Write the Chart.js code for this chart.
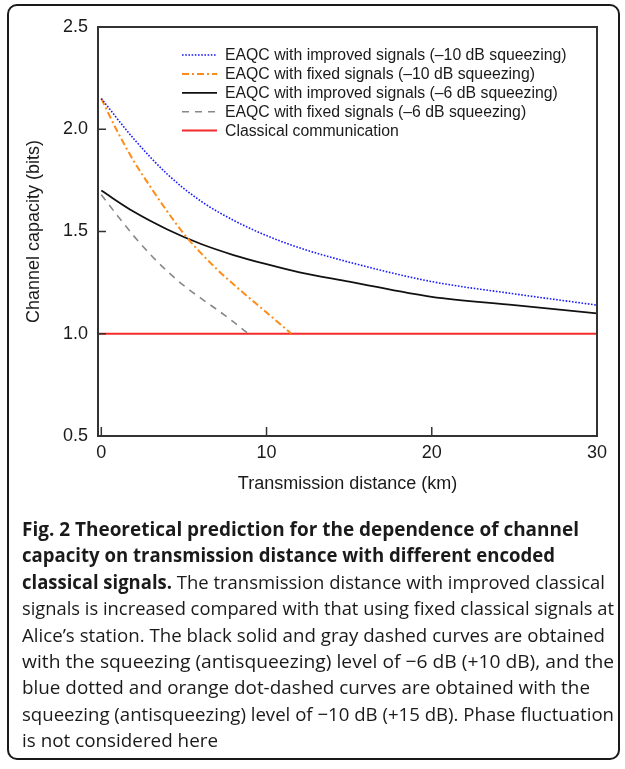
<!DOCTYPE html>
<html>
<head>
<meta charset="utf-8">
<script src="https://cdn.jsdelivr.net/npm/chart.js@4.4.1/dist/chart.umd.min.js"></script>
<style>
    html, body { margin: 0; padding: 0; background: #fff; }
    body { width: 625px; height: 769px; position: relative; overflow: hidden; }
    .card {
        position: absolute; left: 7px; top: 4px; width: 609px; height: 752px;
        border: 2px solid #1a1a1a; border-radius: 10px; pointer-events: none;
    }
    .chart-box { position: absolute; left: 0; top: 0; width: 625px; height: 500px; }
    .caption {
        position: absolute; left: 22px; top: 516px;
        font-family: "Open Sans", "Noto Sans", sans-serif; font-size: 19px;
        line-height: 26.4px; color: #1a1a1a;
    }
    .caption .line { display: block; white-space: nowrap; width: max-content; transform-origin: left center; }
    .caption b { font-weight: 700; }
</style>
</head>
<body>
<div class="chart-box"><canvas id="chart"></canvas></div>
<div class="card"></div>
<div class="caption">
    <span class="line" data-w="557"><b>Fig. 2 Theoretical prediction for the dependence of channel</b></span>
    <span class="line" data-w="533"><b>capacity on transmission distance with different encoded</b></span>
    <span class="line" data-w="583"><b>classical signals.</b> The transmission distance with improved classical</span>
    <span class="line" data-w="592">signals is increased compared with that using fixed classical signals at</span>
    <span class="line" data-w="583">Alice’s station. The black solid and gray dashed curves are obtained</span>
    <span class="line" data-w="592">with the squeezing (antisqueezing) level of −6 dB (+10 dB), and the</span>
    <span class="line" data-w="568">blue dotted and orange dot-dashed curves are obtained with the</span>
    <span class="line" data-w="592">squeezing (antisqueezing) level of −10 dB (+15 dB). Phase fluctuation</span>
    <span class="line" data-w="196">is not considered here</span>
</div>
<script>
// --- data ---
const improved10Km  = [0, 2, 4, 6, 8, 10, 12, 15, 20, 25, 30];
const improved10Cap = [2.15, 1.95, 1.78, 1.65, 1.555, 1.48, 1.42, 1.35, 1.255, 1.195, 1.14];

const fixed10Km  = [0, 1, 2, 3, 4, 5, 6, 7, 8, 9, 10, 11, 11.5];
const fixed10Cap = [2.15, 1.985, 1.84, 1.715, 1.597, 1.488, 1.397, 1.315, 1.242, 1.172, 1.104, 1.035, 1.0];

const improved6Km  = [0, 2, 4, 6, 8, 10, 12, 15, 20, 25, 30];
const improved6Cap = [1.70, 1.595, 1.51, 1.44, 1.385, 1.34, 1.30, 1.255, 1.18, 1.14, 1.10];

const fixed6Km  = [0, 1, 2, 3, 4, 5, 6, 7, 8, 8.9];
const fixed6Cap = [1.68, 1.575, 1.475, 1.385, 1.305, 1.235, 1.175, 1.118, 1.058, 1.0];

const classicalKm  = [-0.2, 30];
const classicalCap = [1.0, 1.0];

const xTicks = [0, 10, 20, 30];
const yTicks = [0.5, 1.0, 1.5, 2.0, 2.5];

const axisColor = '#333';
const textColor = '#1a1a1a';

function toPoints(xs, ys) {
    return xs.map((x, i) => ({ x: x, y: ys[i] }));
}

function lineSet(label, xs, ys, color, width, dash) {
    return {
        label: label,
        data: toPoints(xs, ys),
        borderColor: color,
        backgroundColor: color,
        borderWidth: width,
        borderDash: dash,
        pointRadius: 0,
        fill: false,
        cubicInterpolationMode: 'monotone'
    };
}

/** frame around the plot with inward tick marks */
const frameTicks = {
    id: 'frameTicks',
    afterDatasetsDraw(chart) {
        const { ctx, chartArea: a, scales: { x, y } } = chart;
        ctx.save();
        ctx.strokeStyle = axisColor;
        ctx.lineWidth = 2;
        ctx.strokeRect(a.left, a.top, a.right - a.left, a.bottom - a.top);
        ctx.lineWidth = 1.5;
        ctx.beginPath();
        x.ticks.forEach(t => {
            const px = x.getPixelForValue(t.value);
            ctx.moveTo(px, a.bottom);
            ctx.lineTo(px, a.bottom - 9);
        });
        y.ticks.forEach(t => {
            const py = y.getPixelForValue(t.value);
            ctx.moveTo(a.left, py);
            ctx.lineTo(a.left + 8, py);
        });
        ctx.stroke();
        ctx.restore();
    }
};

/** legend inside the plot, one row per series */
const insideLegend = {
    id: 'insideLegend',
    afterDraw(chart) {
        const ctx = chart.ctx;
        const x0 = 182, x1 = 217, tx = 225, y0 = 55, step = 18.9;
        ctx.save();
        ctx.font = '15.8px "Liberation Sans", Arial, sans-serif';
        ctx.textBaseline = 'middle';
        chart.data.datasets.forEach((ds, i) => {
            const y = y0 + i * step;
            ctx.strokeStyle = ds.borderColor;
            ctx.lineWidth = ds.borderWidth;
            ctx.setLineDash(ds.borderDash || []);
            ctx.beginPath();
            ctx.moveTo(x0, y);
            ctx.lineTo(x1, y);
            ctx.stroke();
            ctx.setLineDash([]);
            ctx.fillStyle = textColor;
            ctx.fillText(ds.label, tx, y + 1);
        });
        ctx.restore();
    }
};

const tickFont = { family: '"Liberation Sans", Arial, sans-serif', size: 18 };

new Chart(document.getElementById('chart'), {
    type: 'line',
    data: {
        datasets: [
            lineSet('EAQC with improved signals (\u201310 dB squeezing)', improved10Km, improved10Cap, '#1a1aff', 1.6, [1.6, 1.6]),
            lineSet('EAQC with fixed signals (\u201310 dB squeezing)', fixed10Km, fixed10Cap, '#ff8c1a', 2, [7, 3, 2, 3]),
            lineSet('EAQC with improved signals (\u20136 dB squeezing)', improved6Km, improved6Cap, '#111', 1.8, []),
            lineSet('EAQC with fixed signals (\u20136 dB squeezing)', fixed6Km, fixed6Cap, '#888', 1.6, [7, 6]),
            lineSet('Classical communication', classicalKm, classicalCap, '#f52a2a', 2, [])
        ]
    },
    options: {
        responsive: true,
        maintainAspectRatio: false,
        animation: false,
        layout: { padding: { left: 0, top: 27, right: 28, bottom: 0 } },
        plugins: {
            legend: { display: false },
            tooltip: { enabled: false }
        },
        scales: {
            x: {
                type: 'linear',
                min: -0.2,
                max: 30,
                afterBuildTicks: s => { s.ticks = xTicks.map(v => ({ value: v })); },
                afterFit: s => { s.height = 64; },
                grid: { display: false },
                border: { display: false },
                ticks: { font: tickFont, color: textColor, padding: -2, maxRotation: 0 },
                title: {
                    display: true,
                    text: 'Transmission distance (km)',
                    font: tickFont,
                    color: textColor,
                    padding: { top: 0, bottom: 5 }
                }
            },
            y: {
                type: 'linear',
                min: 0.5,
                max: 2.5,
                afterBuildTicks: s => { s.ticks = yTicks.map(v => ({ value: v })); },
                afterFit: s => { s.width = 98; },
                grid: { display: false },
                border: { display: false },
                ticks: {
                    font: tickFont,
                    color: textColor,
                    padding: 2,
                    callback: v => Number(v).toFixed(1)
                },
                title: {
                    display: true,
                    text: 'Channel capacity (bits)',
                    font: tickFont,
                    color: textColor,
                    padding: { top: 23, bottom: 0 }
                }
            }
        }
    },
    plugins: [frameTicks, insideLegend]
});

// stretch each caption line to the width it has in the figure
document.querySelectorAll('.caption .line').forEach(line => {
    const target = Number(line.dataset.w);
    const natural = line.getBoundingClientRect().width;
    if (natural > 0) {
        line.style.transform = `scaleX(${(target / natural).toFixed(4)})`;
    }
});
</script>
</body>
</html>
